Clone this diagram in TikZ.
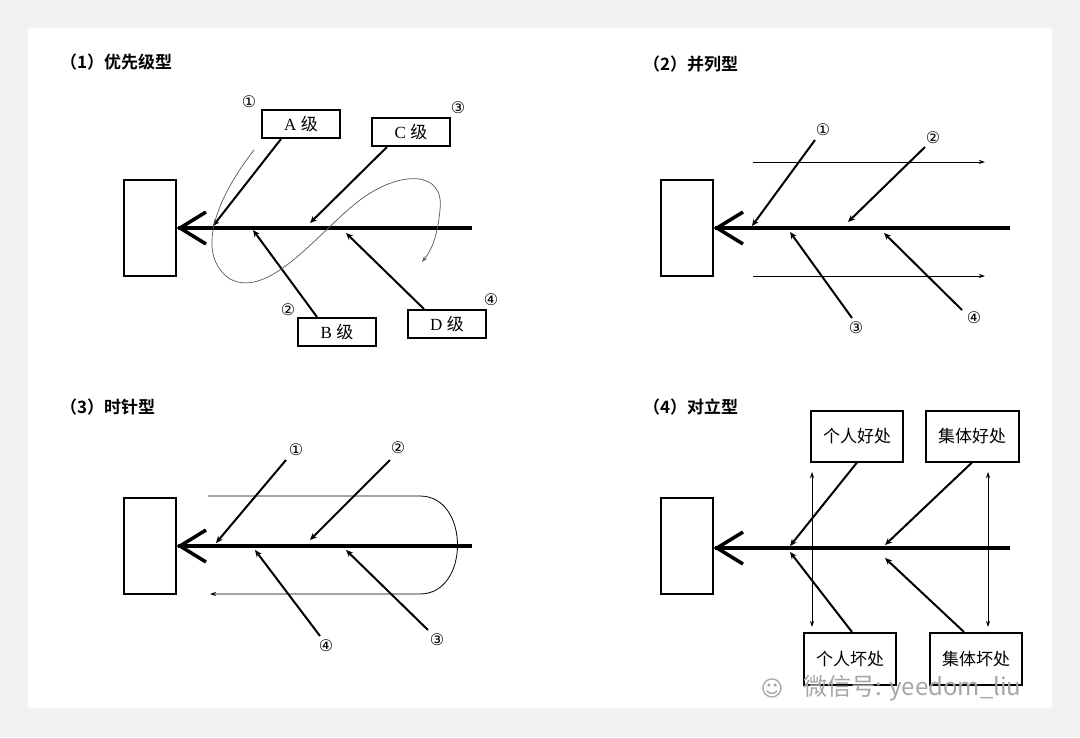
\documentclass[tikz,border=0pt]{standalone}
\usepackage{fontspec}
\setmainfont{Liberation Serif}
\newfontfamily\cjk{Noto Sans CJK SC}
\newfontfamily\cjkb{Noto Sans CJK SC Bold}
\newfontfamily\dv{DejaVu Sans}
\usetikzlibrary{arrows.meta}
\begin{document}
\begin{tikzpicture}[x=1pt,y=-1pt,
  bx/.style={draw,line width=2pt,minimum width=#1,minimum height=28pt,inner sep=0pt,font=\fontsize{17}{17}\selectfont},
  bx/.default=78pt,
  hd/.style={draw,line width=1.6pt,minimum width=52pt,minimum height=96pt},
  spine/.style={line width=3.5pt},
  bone/.style={line width=2pt,-{Stealth[length=7pt,width=6pt]}},
  thin/.style={line width=0.8pt,-{Stealth[length=6pt,width=4pt]}},
  num/.style={font=\dv\fontsize{16}{16}\selectfont,inner sep=0pt},
  ttl/.style={font=\cjkb\fontsize{17}{17}\selectfont,anchor=west,inner sep=0pt}]
\fill[gray!10] (0,0) rectangle (1080,737);
\fill[white] (28,28) rectangle (1052,708);
\useasboundingbox (0,0) rectangle (1080,737);
\newcommand\fishhead[2]{%
 \draw[line width=3.5pt] (#1+28,#2-16) -- (#1+2,#2) -- (#1+28,#2+16);}
%% Panel 1
\node[ttl] (t1) at (60,62) {（1）优先级型};
\node[hd] (h1) at (150,228) {};
\coordinate (s1a) at (178,228); \coordinate (s1b) at (472,228);
\draw[spine] (s1a) -- (s1b); \fishhead{178}{228}
\node[bx] (A) at (301,124) {A {\cjk 级}};
\node[bx] (C) at (411,132) {C {\cjk 级}};
\node[bx] (B) at (337,332) {B {\cjk 级}};
\node[bx] (D) at (447,324) {D {\cjk 级}};
\coordinate (a1) at (213,226); \coordinate (c1) at (310,223);
\coordinate (b1) at (253,230); \coordinate (d1) at (346,233);
\draw[bone] (A.south west)++(20,0) -- (a1);
\draw[bone] (C.south west)++(16,0) -- (c1);
\draw[bone] (B.north west)++(20,0) -- (b1);
\draw[bone] (D.north west)++(17,0) -- (d1);
\node[num] (n11) at (249,102) {①};
\node[num] (n13) at (458,108) {③};
\node[num] (n12) at (288,310) {②};
\node[num] (n14) at (491,300) {④};
\draw[gray!70!black,line width=0.7pt,-{Stealth[length=6pt,width=4pt]}] (254,150) .. controls (215,200) and (195,255) .. (230,279)
  .. controls (270,300) and (320,230) .. (360,200)
  .. controls (400,170) and (445,170) .. (440,210) .. controls (437,240) and (430,252) .. (422,262);
%% Panel 2
\node[ttl] (t2) at (643,64) {（2）并列型};
\node[hd] (h2) at (687,228) {};
\coordinate (s2a) at (715,228); \coordinate (s2b) at (1010,228);
\draw[spine] (s2a) -- (s2b); \fishhead{715}{228}
\node[num] (n21) at (823,130) {①};
\node[num] (n22) at (933,138) {②};
\node[num] (n23) at (856,328) {③};
\node[num] (n24) at (974,318) {④};
\coordinate (e21) at (752,226); \coordinate (e22) at (848,222);
\coordinate (e23) at (790,232); \coordinate (e24) at (884,233);
\draw[bone] (n21)++(-8,10) -- (e21);
\draw[bone] (n22)++(-8,9) -- (e22);
\draw[bone] (n23)++(-4,-10) -- (e23);
\draw[bone] (n24)++(-12,-8) -- (e24);
\coordinate (p1) at (753,162); \coordinate (p2) at (985,162);
\coordinate (p3) at (753,276); \coordinate (p4) at (985,276);
\draw[thin] (p1) -- (p2); \draw[thin] (p3) -- (p4);
%% Panel 3
\node[ttl] (t3) at (60,407) {（3）时针型};
\node[hd] (h3) at (150,546) {};
\coordinate (s3a) at (178,546); \coordinate (s3b) at (472,546);
\draw[spine] (s3a) -- (s3b); \fishhead{178}{546}
\node[num] (n31) at (296,450) {①};
\node[num] (n32) at (398,448) {②};
\node[num] (n34) at (326,646) {④};
\node[num] (n33) at (437,640) {③};
\coordinate (e31) at (216,543); \coordinate (e32) at (310,540);
\coordinate (e34) at (255,550); \coordinate (e33) at (346,550);
\draw[bone] (n31)++(-10,10) -- (e31);
\draw[bone] (n32)++(-8,12) -- (e32);
\draw[bone] (n34)++(-6,-10) -- (e34);
\draw[bone] (n33)++(-9,-10) -- (e33);
\coordinate (q1) at (208,496); \coordinate (q2) at (210,594);
\draw[thin] (q1) -- (420,496) .. controls (470,496) and (470,594) .. (420,594) -- (q2);
%% Panel 4
\node[ttl] (t4) at (643,407) {（4）对立型};
\node[hd] (h4) at (687,546) {};
\coordinate (s4a) at (715,548); \coordinate (s4b) at (1010,548);
\draw[spine] (s4a) -- (s4b); \fishhead{715}{548}
\node[bx=92pt,minimum height=51pt,font=\cjk\fontsize{17}{17}\selectfont] (G1) at (857,436) {个人好处};
\node[bx=93pt,minimum height=51pt,font=\cjk\fontsize{17}{17}\selectfont] (G2) at (972,436) {集体好处};
\node[bx=92pt,minimum height=52pt,font=\cjk\fontsize{17}{17}\selectfont] (K1) at (850,659) {个人坏处};
\node[bx=92pt,minimum height=52pt,font=\cjk\fontsize{17}{17}\selectfont] (K2) at (976,659) {集体坏处};
\coordinate (e41) at (790,546); \coordinate (e42) at (885,545);
\coordinate (e43) at (790,552); \coordinate (e44) at (885,558);
\draw[bone] (G1.south) -- (e41);
\draw[bone] (G2.south) -- (e42);
\draw[bone] (K1.north) ++(2,0) -- (e43);
\draw[bone] (K2.north) ++(-12,0) -- (e44);
\coordinate (v1) at (812,472); \coordinate (v2) at (812,627);
\coordinate (v3) at (988,472); \coordinate (v4) at (988,627);
\draw[thin,{Stealth[length=6pt,width=4pt]}-{Stealth[length=6pt,width=4pt]}] (v1) -- (v2);
\draw[thin,{Stealth[length=6pt,width=4pt]}-{Stealth[length=6pt,width=4pt]}] (v3) -- (v4);
%% watermark
\node[font=\cjk\fontsize{24}{24}\selectfont,text=gray!70,anchor=west] (wm) at (800,688) {微信号: yeedom\_liu};
\node[font=\dv\fontsize{22}{22}\selectfont,text=gray!70] (wmi) at (772,688) {☺};
\end{tikzpicture}
\end{document}
